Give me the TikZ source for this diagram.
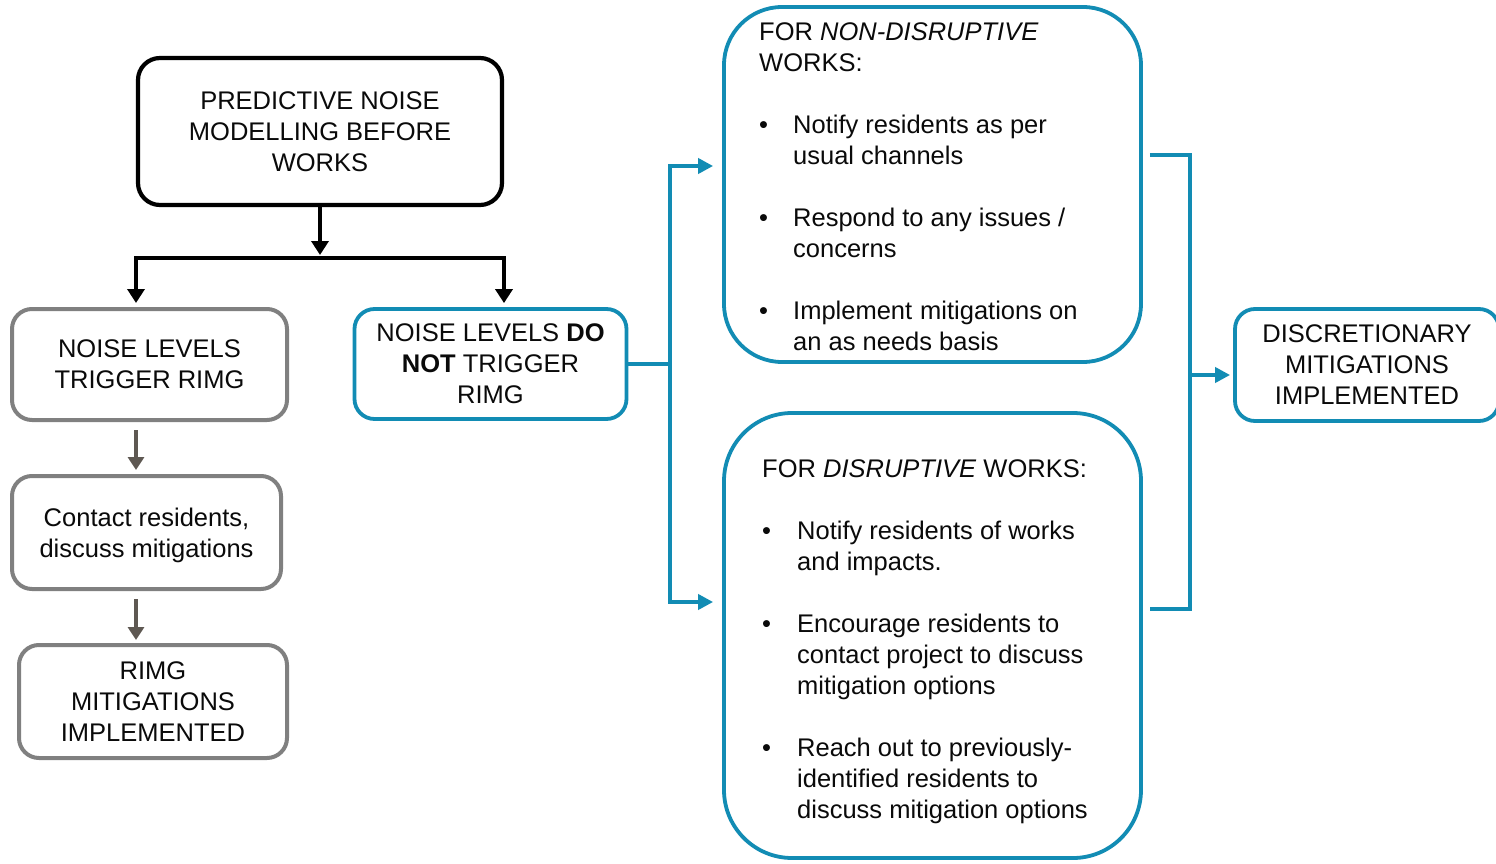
\documentclass[tikz,border=0pt]{standalone}
\usepackage{fontspec}
\setmainfont{Liberation Sans}
\usetikzlibrary{arrows.meta,calc}
\definecolor{tealblue}{RGB}{18,140,180}
\definecolor{boxgray}{RGB}{128,128,128}
\definecolor{arrgray}{RGB}{94,88,82}
\definecolor{txt}{RGB}{10,10,10}
\newcommand\hstrut{\rule[-0.22em]{0pt}{0.97em}}
\newcommand\bul[1]{\makebox[#1][l]{\textbullet}}
\begin{document}
\begin{tikzpicture}[x=1pt,y=-1pt,
  every node/.style={font=\fontsize{25.5}{31}\selectfont, text=txt, inner sep=0pt},
  blackbox/.style={draw=black, line width=4.2pt, rounded corners=22pt, align=center},
  graybox/.style={draw=boxgray, line width=4pt, rounded corners=20pt, align=center},
  bluebox/.style={draw=tealblue, line width=3.8pt, rounded corners=20pt, align=center},
  blkarrow/.style={draw=black, line width=4.5pt, -{Triangle[length=14pt,width=17pt]}},
  grayarrow/.style={draw=arrgray, line width=4pt, -{Triangle[length=13pt,width=16pt]}},
  blueline/.style={draw=tealblue, line width=4pt},
  bluearrow/.style={draw=tealblue, line width=4pt, -{Triangle[length=15pt,width=15pt]}},
  textblock/.style={anchor=north west, align=left}
]
\useasboundingbox (0,0) rectangle (1496,864);
\fill[white] (0,0) rectangle (1496,864);

% boxes
\node[blackbox, minimum width=364pt, minimum height=147pt] (top) at (320,131.5)
  {PREDICTIVE NOISE\\MODELLING BEFORE\\WORKS};
\node[graybox, minimum width=275pt, minimum height=111pt] (gray1) at (149.5,364.5)
  {NOISE LEVELS\\TRIGGER RIMG};
\node[bluebox, minimum width=272pt, minimum height=110pt] (blue2) at (490.5,364)
  {NOISE LEVELS \textbf{DO}\\\textbf{NOT} TRIGGER\\RIMG};
\node[graybox, minimum width=269pt, minimum height=113pt] (contact) at (146.5,532.5)
  {\rule{0pt}{25pt}Contact residents,\\discuss mitigations};
\node[graybox, minimum width=268pt, minimum height=113pt] (rimg) at (153,701.5)
  {RIMG\\MITIGATIONS\\IMPLEMENTED};
\node[draw=tealblue, line width=3.8pt, rounded corners=58pt, minimum width=417pt, minimum height=355pt] (nd) at (932.5,184.5) {};
\node[draw=tealblue, line width=3.8pt, rounded corners=68pt, minimum width=417pt, minimum height=445pt] (dis) at (932.5,635.5) {};
\node[bluebox, minimum width=264pt, minimum height=112pt] (disc) at (1367,365)
  {DISCRETIONARY\\MITIGATIONS\\IMPLEMENTED};

% texts of the large boxes
\node[textblock] (ndtext) at (759,21)
  {\hstrut FOR \textit{NON-DISRUPTIVE}\\
   WORKS:\\[31pt]
   \bul{34pt}Notify residents as per\\
   \hspace*{34pt}usual channels\\[31pt]
   \bul{34pt}Respond to any issues /\\
   \hspace*{34pt}concerns\\[31pt]
   \bul{34pt}Implement\hspace{8pt}mitigations on\\
   \hspace*{34pt}an as needs basis};
\node[textblock] (distext) at (762,458)
  {\hstrut FOR \textit{DISRUPTIVE} WORKS:\\[31pt]
   \bul{35pt}Notify residents of works\\
   \hspace*{35pt}and impacts.\\[31pt]
   \bul{35pt}Encourage residents to\\
   \hspace*{35pt}contact project to discuss\\
   \hspace*{35pt}mitigation options\\[31pt]
   \bul{35pt}Reach out to previously-\\
   \hspace*{35pt}identified residents to\\
   \hspace*{35pt}discuss mitigation options};

% coordinates
\coordinate (jn) at (320,258);
\coordinate (bl) at (136,258);
\coordinate (br) at (504,258);
\coordinate (vt) at (670,166);
\coordinate (vb) at (670,602);
\coordinate (rt) at (1190,155);
\coordinate (rb) at (1190,609);
\coordinate (ra) at (1190,375);

% black connectors
\draw[blkarrow, shorten >=3pt] (top.south) -- (jn);
\draw[blkarrow, shorten >=4pt] (jn) -| (gray1.north -| bl);
\draw[blkarrow, shorten >=4pt] (jn) -| (blue2.north -| br);

% gray connectors
\draw[grayarrow, shorten <=8pt, shorten >=4pt] (gray1.south -| bl) -- (contact.north -| bl);
\draw[grayarrow, shorten <=8pt, shorten >=3pt] (contact.south -| bl) -- (rimg.north -| bl);

% blue connectors
\draw[blueline] (blue2.east) -- (blue2.east -| vt);
\draw[bluearrow, shorten >=9pt] (vb) -- (vt) -- (vt -| nd.west);
\draw[bluearrow, shorten >=9pt] (vt) -- (vb) -- (vb -| dis.west);
\draw[blueline, shorten <=7pt, shorten >=7pt] (nd.east |- rt) -- (rt) -- (rb) -- (dis.east |- rb);
\draw[bluearrow, shorten >=3pt] (ra) -- (ra -| disc.west);
\end{tikzpicture}
\end{document}
